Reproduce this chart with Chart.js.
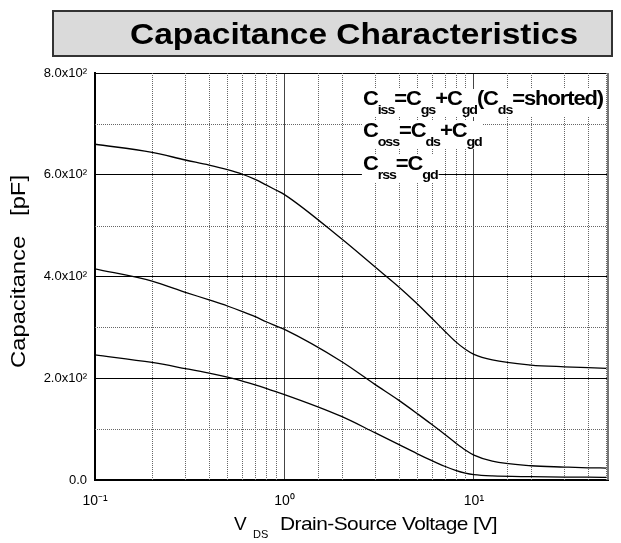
<!DOCTYPE html>
<html>
<head>
<meta charset="utf-8">
<script src="https://cdn.jsdelivr.net/npm/chart.js@4.4.1/dist/chart.umd.min.js"></script>
<style>
  html, body { margin: 0; background: #fff; }
  #wrap { position: relative; width: 621px; height: 543px; }
</style>
</head>
<body>
<div id="wrap"><canvas id="myChart" width="621" height="543"></canvas></div>
<script>
// VDS values [V]
const vds  = [0.1, 0.2, 0.3, 0.4, 0.5, 0.6, 0.7, 0.8, 0.9, 1, 2, 3, 4, 5, 6, 7, 8, 9, 10, 12.5, 20, 30, 40, 50];
// capacitances [pF]
const ciss = [660, 644, 629, 619, 610, 601, 591, 580, 570, 561, 474, 419, 380, 347, 318, 293, 272, 257, 247, 236, 226, 222.5, 220.8, 219.5];
const coss = [415, 391, 369, 354, 342, 331, 321, 311, 303, 296, 233, 188, 157, 131, 109, 90, 73, 59, 49, 37, 28, 25.5, 24, 23.5];
const crss = [246, 231, 219, 210, 202, 194.5, 187, 180, 173.5, 168, 125, 93, 70, 52, 38, 27, 19, 13.5, 10.5, 8, 6.5, 5.8, 5.5, 5.3];

const xTickValues = [0.1, 1, 10];
const xTickLabels = ['10⁻¹', '10⁰', '10¹'];
const yTickValues = [0, 200, 400, 600, 800];
const yTickLabels = ['0.0', '2.0x10²', '4.0x10²', '6.0x10²', '8.0x10²'];

const chartTitle = 'Capacitance Characteristics';
const yTitle = 'Capacitance   [pF]';
const xTitleMain = 'V';
const xTitleSub = 'DS';
const xTitleRest = 'Drain-Source Voltage [V]';

// [text, isSubscript]
const noteLines = [
  [['C', 0], ['iss', 1], ['=C', 0], ['gs', 1], ['+C', 0], ['gd', 1], ['(C', 0], ['ds', 1], ['=shorted)', 0]],
  [['C', 0], ['oss', 1], ['=C', 0], ['ds', 1], ['+C', 0], ['gd', 1]],
  [['C', 0], ['rss', 1], ['=C', 0], ['gd', 1]]
];

const FONT = "'Liberation Sans', Arial, sans-serif";

function isDecade(v) {
  const l = Math.log10(v);
  return Math.abs(l - Math.round(l)) < 1e-6;
}

function toPoints(ys) {
  return vds.map((v, i) => ({ x: v, y: ys[i] }));
}

function measureRich(ctx, segs, mainFont, subFont, spacing) {
  ctx.save();
  ctx.letterSpacing = spacing + 'px';
  const widths = segs.map(s => {
    ctx.font = s[1] ? subFont : mainFont;
    return ctx.measureText(s[0]).width;
  });
  ctx.restore();
  return widths;
}

// draw a line of text made of normal + subscript pieces, with horizontal squeeze k
function drawRich(ctx, x, base, segs, mainFont, subFont, subDy, spacing, k, bgWhite) {
  const widths = measureRich(ctx, segs, mainFont, subFont, spacing);
  const w = widths.reduce((a, b) => a + b, 0);
  ctx.save();
  ctx.letterSpacing = spacing + 'px';
  ctx.translate(x, base);
  ctx.scale(k, 1);
  ctx.textBaseline = 'alphabetic';
  ctx.textAlign = 'left';
  if (bgWhite) {
    ctx.fillStyle = '#fff';
    ctx.fillRect(-1, -16, w + 2, 28);
  }
  ctx.fillStyle = '#000';
  let cx = 0;
  segs.forEach((s, i) => {
    ctx.font = s[1] ? subFont : mainFont;
    ctx.fillText(s[0], cx, s[1] ? subDy : 0);
    cx += widths[i];
  });
  ctx.restore();
  return w;
}

function drawFit(ctx, x, base, text, font, spacing, targetW) {
  const w = measureRich(ctx, [[text, 0]], font, font, spacing)[0];
  drawRich(ctx, x, base, [[text, 0]], font, font, 0, spacing, targetW ? targetW / w : 1, false);
}

const whiteBg = {
  id: 'whiteBg',
  beforeDraw(chart) {
    const ctx = chart.ctx;
    ctx.save();
    ctx.fillStyle = '#fff';
    ctx.fillRect(0, 0, chart.width, chart.height);
    ctx.restore();
  }
};

// dotted minor grid lines + grey right edge
const minorGrid = {
  id: 'minorGrid',
  beforeDatasetsDraw(chart) {
    const { ctx, chartArea: a, scales: { x, y } } = chart;
    ctx.save();
    ctx.strokeStyle = '#666';
    ctx.lineWidth = 1;
    ctx.setLineDash([1, 1]);
    x.ticks.forEach(t => {
      if (isDecade(t.value) || t.value >= x.max) return;
      const px = Math.round(x.getPixelForValue(t.value)) + 0.5;
      ctx.beginPath();
      ctx.moveTo(px, a.top);
      ctx.lineTo(px, a.bottom);
      ctx.stroke();
    });
    y.ticks.forEach(t => {
      if (t.value % 200 === 0) return;
      const py = Math.round(y.getPixelForValue(t.value)) + 0.5;
      ctx.beginPath();
      ctx.moveTo(a.left, py);
      ctx.lineTo(a.right, py);
      ctx.stroke();
    });
    ctx.setLineDash([]);
    ctx.strokeStyle = '#777';
    ctx.lineWidth = 2;
    ctx.beginPath();
    ctx.moveTo(a.right, a.top);
    ctx.lineTo(a.right, a.bottom);
    ctx.stroke();
    ctx.restore();
  }
};

const texts = {
  id: 'texts',
  afterDraw(chart) {
    const ctx = chart.ctx;
    // title box
    ctx.save();
    ctx.fillStyle = '#dadada';
    ctx.fillRect(53, 11, 559, 45);
    ctx.strokeStyle = '#333';
    ctx.lineWidth = 2;
    ctx.strokeRect(53, 11, 559, 45);
    ctx.restore();
    drawFit(ctx, 130, 44, chartTitle, 'bold 30px ' + FONT, 0, 448);

    // y title
    ctx.save();
    ctx.translate(25, 271.5 + 193 / 2);
    ctx.rotate(-Math.PI / 2);
    drawFit(ctx, 0, 0, yTitle, '20px ' + FONT, 0, 193);
    ctx.restore();

    // x title
    drawFit(ctx, 234, 530, xTitleMain, '19px ' + FONT, 0, 0);
    drawFit(ctx, 253, 538, xTitleSub, '11px ' + FONT, 0, 0);
    drawFit(ctx, 280, 530, xTitleRest, '19px ' + FONT, -0.5, 217);

    // capacitance definitions, all squeezed like the first line
    const mainF = 'bold 20px ' + FONT, subF = 'bold 13px ' + FONT;
    const w0 = measureRich(ctx, noteLines[0], mainF, subF, -1).reduce((a, b) => a + b, 0);
    const k = 240 / w0;
    const bases = [105, 137, 170];
    noteLines.forEach((segs, i) => {
      drawRich(ctx, 363, bases[i], segs, mainF, subF, 9, -1, k, true);
    });
  }
};

const lineStyle = {
  borderColor: '#000',
  borderWidth: 1.3,
  pointRadius: 0,
  fill: false,
  cubicInterpolationMode: 'monotone'
};

const myChart = new Chart(document.getElementById('myChart'), {
  type: 'line',
  data: {
    datasets: [
      { label: 'Ciss', data: toPoints(ciss), ...lineStyle },
      { label: 'Coss', data: toPoints(coss), ...lineStyle },
      { label: 'Crss', data: toPoints(crss), ...lineStyle }
    ]
  },
  options: {
    responsive: false,
    animation: false,
    devicePixelRatio: 1,
    layout: { padding: { left: 0, top: 73, right: 11, bottom: 0 } },
    plugins: {
      legend: { display: false },
      tooltip: { enabled: false },
      title: { display: false }
    },
    scales: {
      x: {
        type: 'logarithmic',
        min: 0.1,
        max: 51,
        afterFit(scale) { scale.height = 63; },
        grid: {
          drawTicks: false,
          lineWidth: 1,
          color: (c) => (c.tick && isDecade(c.tick.value)) ? '#444' : 'rgba(0,0,0,0)'
        },
        border: { display: true, color: '#000', width: 2 },
        ticks: {
          autoSkip: false,
          maxRotation: 0,
          padding: 13,
          color: '#000',
          font: { family: FONT, size: 14 },
          callback: (v) => {
            const i = xTickValues.findIndex(t => Math.abs(t - v) < 1e-9);
            return i >= 0 ? xTickLabels[i] : '';
          }
        }
      },
      y: {
        type: 'linear',
        min: 0,
        max: 800,
        afterFit(scale) { scale.width = 95; },
        grid: {
          drawTicks: false,
          lineWidth: 1,
          color: (c) => (c.tick && c.tick.value % 200 === 0) ? '#000' : 'rgba(0,0,0,0)'
        },
        border: { display: true, color: '#000', width: 2 },
        ticks: {
          stepSize: 100,
          padding: 8,
          color: '#000',
          font: { family: FONT, size: 13 },
          callback: (v) => {
            const i = yTickValues.indexOf(v);
            return i >= 0 ? yTickLabels[i] : '';
          }
        }
      }
    }
  },
  plugins: [whiteBg, minorGrid, texts]
});
</script>
</body>
</html>
